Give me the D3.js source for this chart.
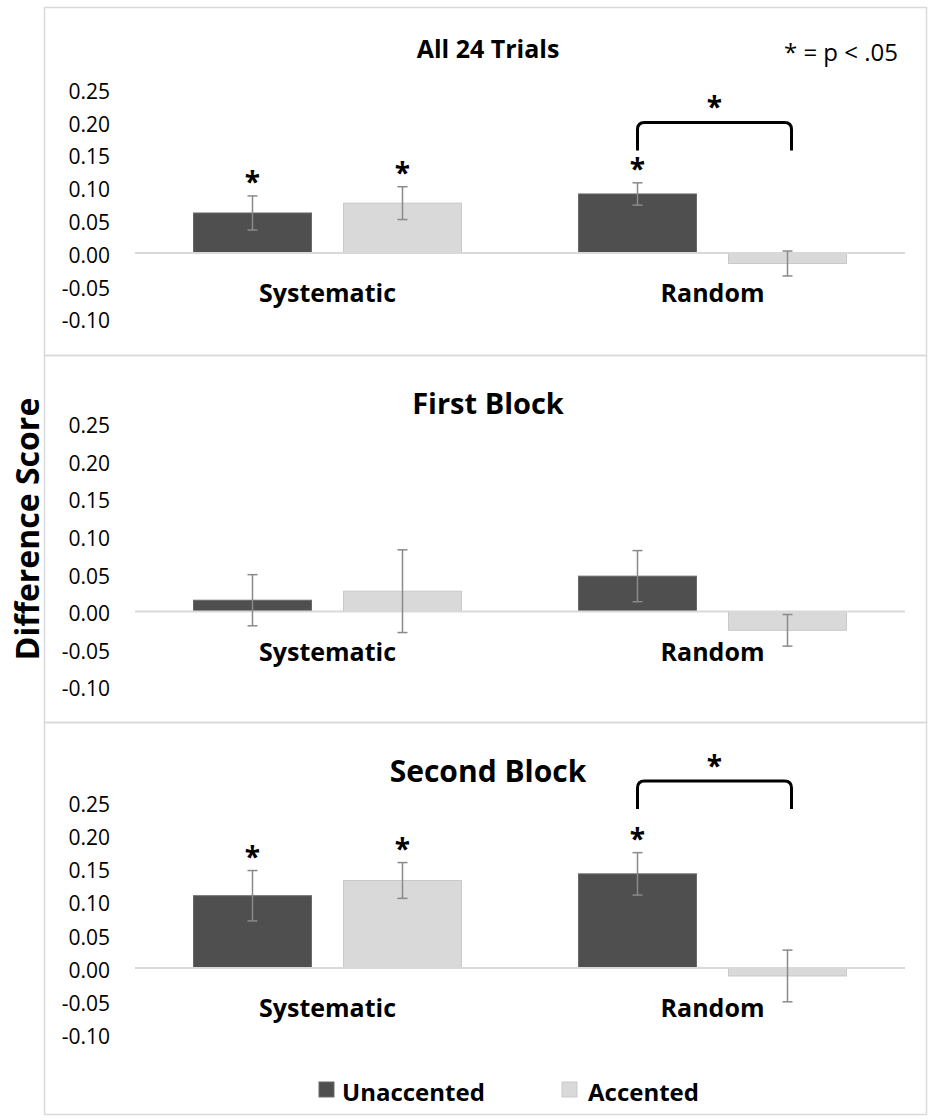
<!doctype html>
<html>
  <head>
    <meta charset="utf-8">
    <script src="https://d3js.org/d3.v7.min.js"></script>
    <style>
      body { margin: 0; background: #fff; }
      text { font-family: "Open Sans", sans-serif; fill: #000; }
    </style>
  </head>
  <body>
    <div id="chart"></div>
    <script>
      // chart values
      var categories = ["Systematic", "Random"];
      var series = ["Unaccented", "Accented"];
      var panelTitles = ["All 24 Trials", "First Block", "Second Block"];
      var yTicks = [0.25, 0.20, 0.15, 0.10, 0.05, 0.00, -0.05, -0.10];

      // one row per panel, one value per category
      var unaccentedMean = [[0.061, 0.090], [0.015, 0.047], [0.109, 0.142]];
      var accentedMean   = [[0.076, -0.016], [0.027, -0.025], [0.132, -0.012]];
      var unaccentedErr  = [[0.026, 0.017], [0.034, 0.034], [0.038, 0.032]];
      var accentedErr    = [[0.025, 0.019], [0.055, 0.021], [0.027, 0.039]];
      var unaccentedSig  = [[true, true], [false, false], [true, true]];
      var accentedSig    = [[true, false], [false, false], [true, false]];
      // unaccented vs accented difference within a category
      var pairSig        = [[false, true], [false, false], [false, true]];

      var width = 931, height = 1120;
      var colors = { Unaccented: "#4f4f4f", Accented: "#d9d9d9" };
      var strokes = { Unaccented: "#6a6a6a", Accented: "#c9c9c9" };

      // layout of the three stacked panels
      var panels = [
        { top: 7,   bottom: 355,  zero: 253,   k: 656, titleY: 49,  titleSize: 25, bracketLevel: 0.199 },
        { top: 355, bottom: 722,  zero: 611.5, k: 752, titleY: 404, titleSize: 29, bracketLevel: null },
        { top: 722, bottom: 1114, zero: 968,   k: 663, titleY: 771, titleSize: 30, bracketLevel: 0.282 }
      ];

      var svg = d3.select("#chart").append("svg")
        .attr("width", width)
        .attr("height", height);

      var x = d3.scaleBand().domain(categories).range([135, 905]);
      var xs = d3.scaleBand().domain(series).range([58.5, 326.5]).paddingInner(32 / 150);
      var fmt = function(v) { return d3.format(".2f")(v).replace("\u2212", "-"); };

      panels.forEach(function(p, pi) {
        var y = d3.scaleLinear()
          .domain([-0.10, 0.25])
          .range([p.zero + 0.10 * p.k, p.zero - 0.25 * p.k]);

        var g = svg.append("g");

        // panel frame
        g.append("rect")
          .attr("x", 44.5).attr("y", p.top + 0.5)
          .attr("width", 882).attr("height", p.bottom - p.top)
          .attr("fill", "none")
          .attr("stroke", "#d9d9d9")
          .attr("stroke-width", 1.5);

        // title
        g.append("text")
          .attr("x", 488).attr("y", p.titleY)
          .attr("dy", "0.36em")
          .attr("text-anchor", "middle")
          .style("font-weight", 700)
          .style("font-size", p.titleSize + "px")
          .text(panelTitles[pi]);

        // y axis: labels only, no line
        var yAxis = d3.axisLeft(y)
          .tickValues(yTicks)
          .tickSize(0)
          .tickPadding(0)
          .tickFormat(fmt);
        var ax = g.append("g")
          .attr("transform", "translate(110,2.5)")
          .call(yAxis);
        ax.select(".domain").remove();
        ax.selectAll("text")
          .style("font-family", "'Open Sans', sans-serif")
          .style("font-size", "21px")
          .attr("fill", "#000");

        // bars
        var rows = [];
        categories.forEach(function(c, ci) {
          rows.push({ cat: c, ser: "Unaccented", v: unaccentedMean[pi][ci], e: unaccentedErr[pi][ci], sig: unaccentedSig[pi][ci] });
          rows.push({ cat: c, ser: "Accented", v: accentedMean[pi][ci], e: accentedErr[pi][ci], sig: accentedSig[pi][ci] });
        });

        var cx = function(d) { return x(d.cat) + xs(d.ser) + xs.bandwidth() / 2; };

        g.selectAll(".bar").data(rows).enter()
          .append("rect")
          .attr("class", "bar")
          .attr("x", function(d) { return x(d.cat) + xs(d.ser); })
          .attr("y", function(d) { return y(Math.max(0, d.v)); })
          .attr("width", xs.bandwidth())
          .attr("height", function(d) { return Math.abs(y(d.v) - y(0)); })
          .attr("fill", function(d) { return colors[d.ser]; })
          .attr("stroke", function(d) { return strokes[d.ser]; })
          .attr("stroke-width", 1);

        // zero line
        g.append("line")
          .attr("x1", 135).attr("x2", 905)
          .attr("y1", y(0)).attr("y2", y(0))
          .attr("stroke", "#d9d9d9")
          .attr("stroke-width", 2);

        // error bars
        var eb = g.selectAll(".err").data(rows).enter().append("g")
          .attr("stroke", "#8a8a8a")
          .attr("stroke-width", 1.5);
        eb.append("line")
          .attr("x1", cx).attr("x2", cx)
          .attr("y1", function(d) { return y(d.v + d.e); })
          .attr("y2", function(d) { return y(d.v - d.e); });
        eb.append("line")
          .attr("x1", function(d) { return cx(d) - 5; })
          .attr("x2", function(d) { return cx(d) + 5; })
          .attr("y1", function(d) { return y(d.v + d.e); })
          .attr("y2", function(d) { return y(d.v + d.e); });
        eb.append("line")
          .attr("x1", function(d) { return cx(d) - 5; })
          .attr("x2", function(d) { return cx(d) + 5; })
          .attr("y1", function(d) { return y(d.v - d.e); })
          .attr("y2", function(d) { return y(d.v - d.e); });

        // significance stars
        g.selectAll(".star").data(rows.filter(function(d) { return d.sig; })).enter()
          .append("text")
          .attr("x", cx)
          .attr("y", function(d) { return y(d.v + d.e) - 4; })
          .attr("text-anchor", "middle")
          .style("font-weight", 700)
          .style("font-size", "28px")
          .text("*");

        // category labels
        g.selectAll(".cat").data(categories).enter()
          .append("text")
          .attr("x", function(c) { return x(c) + x.bandwidth() / 2; })
          .attr("y", p.zero + 40)
          .attr("dy", "0.36em")
          .attr("text-anchor", "middle")
          .style("font-weight", 700)
          .style("font-size", "25px")
          .text(function(c) { return c; });

        // brackets between series
        categories.forEach(function(c, ci) {
          if (!pairSig[pi][ci]) return;
          var x1 = x(c) + xs("Unaccented") + xs.bandwidth() / 2;
          var x2 = x(c) + xs("Accented") + xs.bandwidth() / 2 + 4;
          var top = y(p.bracketLevel), bot = top + 28, r = 7;
          g.append("path")
            .attr("d", "M" + x1 + "," + bot + "L" + x1 + "," + (top + r) +
              "Q" + x1 + "," + top + " " + (x1 + r) + "," + top +
              "L" + (x2 - r) + "," + top +
              "Q" + x2 + "," + top + " " + x2 + "," + (top + r) +
              "L" + x2 + "," + bot)
            .attr("fill", "none")
            .attr("stroke", "#000")
            .attr("stroke-width", 3);
          g.append("text")
            .attr("x", (x1 + x2) / 2)
            .attr("y", top - 5)
            .attr("text-anchor", "middle")
            .style("font-weight", 700)
            .style("font-size", "28px")
            .text("*");
        });
      });

      // p-value note
      svg.append("text")
        .attr("x", 898).attr("y", 52)
        .attr("dy", "0.36em")
        .attr("text-anchor", "end")
        .style("font-size", "24px")
        .text("* = p < .05");

      // y axis title
      svg.append("text")
        .attr("transform", "translate(27,529) rotate(-90)")
        .attr("dy", "0.36em")
        .attr("text-anchor", "middle")
        .style("font-weight", 700)
        .style("font-size", "32px")
        .text("Difference Score");

      // legend
      var legX = [319, 562];
      var leg = svg.selectAll(".leg").data(series).enter().append("g")
        .attr("transform", function(d, i) { return "translate(" + legX[i] + ",1082)"; });
      leg.append("rect")
        .attr("width", 15).attr("height", 15)
        .attr("fill", function(d) { return colors[d]; })
        .attr("stroke", function(d) { return strokes[d]; });
      leg.append("text")
        .attr("x", function(d, i) { return i === 0 ? 23 : 26; })
        .attr("y", 10)
        .attr("dy", "0.36em")
        .style("font-weight", 700)
        .style("font-size", "24px")
        .text(function(d) { return d; });
    </script>
  </body>
</html>
